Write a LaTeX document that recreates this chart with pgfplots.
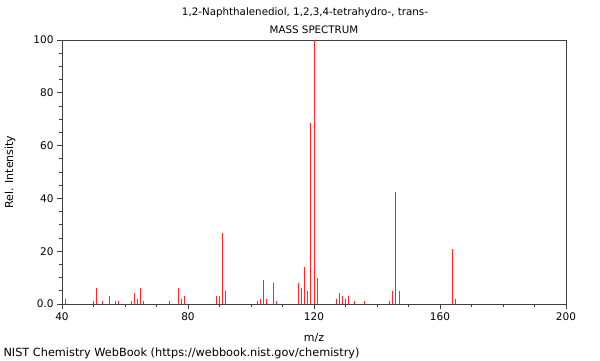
\documentclass[border=0pt]{standalone}
\usepackage{fontspec}
\setmainfont{DejaVu Sans}
\usepackage{pgfplots}
\pgfplotsset{compat=1.18}
\begin{document}
\begin{tikzpicture}[x=1pt,y=1pt]
\path[use as bounding box] (0,0) rectangle (600,360);
\begin{axis}[
  at={(62pt,56pt)}, anchor=south west,
  scale only axis, width=504pt, height=264pt,
  xmin=40, xmax=200, ymin=0, ymax=100,
  xtick={40,80,120,160,200},
  ytick={0,20,40,60,80,100},
  yticklabels={0.0,20,40,60,80,100},
  minor x tick num=3, minor y tick num=3,
  xtick pos=bottom, ytick pos=left,
  tick align=outside,
  major tick length=5pt, minor tick length=3pt,
  axis line style={black!75, line width=0.8pt},
  every tick/.style={black!75, line width=0.8pt},
  tick label style={font=\fontsize{10.5}{12}\selectfont, black},
  /pgf/number format/assume math mode=true,
  clip=false,
]
\addplot+[ycomb, no marks, draw=red!85!white, line width=1pt] coordinates {
(41,2) (50,1) (51,6) (53,1) (55,3) (57,1) (58,1) (62,1) (63,4) (64,2) (65,6) (66,1)
(74,1) (77,6) (78,2) (79,3) (89,3) (90,3) (91,27) (92,5)
(102,1) (103,2) (104,9) (105,2) (107,8) (108,1)
(115,8) (116,6) (117,14) (118,5) (119,68.5) (120,100) (121,10)
(127,2) (128,4) (129,3) (130,2) (131,3) (133,1) (136,1)
(144,1) (145,5) (146,42.5) (147,5) (164,21) (165,2)
};
\end{axis}
\node[font=\fontsize{10.3}{12}\selectfont] at (305,347) {1,2-Naphthalenediol, 1,2,3,4-tetrahydro-, trans-};
\node[font=\fontsize{10.3}{12}\selectfont] at (314,330) {MASS SPECTRUM};
\node[font=\fontsize{11}{13}\selectfont] at (314,22) {m/z};
\node[font=\fontsize{11}{13}\selectfont, rotate=90] at (10,188) {Rel. Intensity};
\node[font=\fontsize{11.3}{13}\selectfont, anchor=west] at (0,7) {NIST Chemistry WebBook (https://webbook.nist.gov/chemistry)};
\end{tikzpicture}
\end{document}
